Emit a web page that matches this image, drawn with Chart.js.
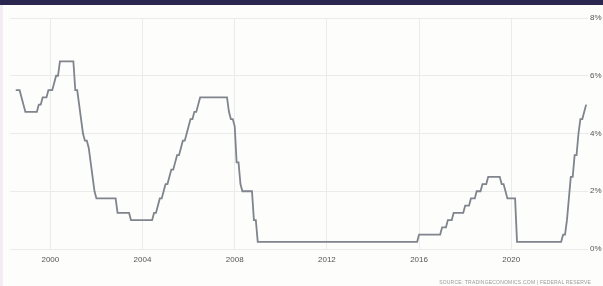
<!DOCTYPE html>
<html>
<head>
<meta charset="utf-8">
<script src="https://cdn.jsdelivr.net/npm/chart.js@4.4.1/dist/chart.umd.min.js"></script>
<style>
  html, body { margin: 0; padding: 0; background: #fdfdfb; }
  #wrap { position: relative; width: 603px; height: 286px; overflow: hidden; }
  #topbar { position: absolute; left: 0; top: 0; width: 603px; height: 5px; background: #2b2650; }
  #leftbar { position: absolute; left: 0; top: 5px; width: 3px; height: 281px; background: #f3ecf5; }
  #chart { position: absolute; left: 0; top: 0; }
  #source { position: absolute; right: 12px; bottom: 1px; font: 5px "Liberation Sans", Arial, sans-serif; color: #9a9a9a; letter-spacing: 0.2px; }
</style>
</head>
<body>
<div id="wrap">
  <canvas id="chart" width="603" height="286"></canvas>
  <div id="topbar"></div>
  <div id="leftbar"></div>
  <div id="source">SOURCE: TRADINGECONOMICS.COM | FEDERAL RESERVE</div>
</div>
<script>
// monthly fed funds target (upper bound), end of month, from Jun 1998
const startYear = 1998;
const startMonth = 6;
const rates = [
  5.5, 5.5, 5.5, 5.25, 5.0, 4.75, 4.75,                              // 1998 Jun-Dec
  4.75, 4.75, 4.75, 4.75, 4.75, 5.0, 5.0, 5.25, 5.25, 5.25, 5.5, 5.5, // 1999
  5.5, 5.75, 6.0, 6.0, 6.5, 6.5, 6.5, 6.5, 6.5, 6.5, 6.5, 6.5,       // 2000
  5.5, 5.5, 5.0, 4.5, 4.0, 3.75, 3.75, 3.5, 3.0, 2.5, 2.0, 1.75,     // 2001
  1.75, 1.75, 1.75, 1.75, 1.75, 1.75, 1.75, 1.75, 1.75, 1.75, 1.25, 1.25, // 2002
  1.25, 1.25, 1.25, 1.25, 1.25, 1.0, 1.0, 1.0, 1.0, 1.0, 1.0, 1.0,   // 2003
  1.0, 1.0, 1.0, 1.0, 1.0, 1.25, 1.25, 1.5, 1.75, 1.75, 2.0, 2.25,   // 2004
  2.25, 2.5, 2.75, 2.75, 3.0, 3.25, 3.25, 3.5, 3.75, 3.75, 4.0, 4.25, // 2005
  4.5, 4.5, 4.75, 4.75, 5.0, 5.25, 5.25, 5.25, 5.25, 5.25, 5.25, 5.25, // 2006
  5.25, 5.25, 5.25, 5.25, 5.25, 5.25, 5.25, 5.25, 4.75, 4.5, 4.5, 4.25, // 2007
  3.0, 3.0, 2.25, 2.0, 2.0, 2.0, 2.0, 2.0, 2.0, 1.0, 1.0, 0.25,      // 2008
  0.25, 0.25, 0.25, 0.25, 0.25, 0.25, 0.25, 0.25, 0.25, 0.25, 0.25, 0.25, // 2009
  0.25, 0.25, 0.25, 0.25, 0.25, 0.25, 0.25, 0.25, 0.25, 0.25, 0.25, 0.25, // 2010
  0.25, 0.25, 0.25, 0.25, 0.25, 0.25, 0.25, 0.25, 0.25, 0.25, 0.25, 0.25, // 2011
  0.25, 0.25, 0.25, 0.25, 0.25, 0.25, 0.25, 0.25, 0.25, 0.25, 0.25, 0.25, // 2012
  0.25, 0.25, 0.25, 0.25, 0.25, 0.25, 0.25, 0.25, 0.25, 0.25, 0.25, 0.25, // 2013
  0.25, 0.25, 0.25, 0.25, 0.25, 0.25, 0.25, 0.25, 0.25, 0.25, 0.25, 0.25, // 2014
  0.25, 0.25, 0.25, 0.25, 0.25, 0.25, 0.25, 0.25, 0.25, 0.25, 0.25, 0.5,  // 2015
  0.5, 0.5, 0.5, 0.5, 0.5, 0.5, 0.5, 0.5, 0.5, 0.5, 0.5, 0.75,       // 2016
  0.75, 0.75, 1.0, 1.0, 1.0, 1.25, 1.25, 1.25, 1.25, 1.25, 1.25, 1.5, // 2017
  1.5, 1.5, 1.75, 1.75, 1.75, 2.0, 2.0, 2.0, 2.25, 2.25, 2.25, 2.5,  // 2018
  2.5, 2.5, 2.5, 2.5, 2.5, 2.5, 2.25, 2.25, 2.0, 1.75, 1.75, 1.75,   // 2019
  1.75, 1.75, 0.25, 0.25, 0.25, 0.25, 0.25, 0.25, 0.25, 0.25, 0.25, 0.25, // 2020
  0.25, 0.25, 0.25, 0.25, 0.25, 0.25, 0.25, 0.25, 0.25, 0.25, 0.25, 0.25, // 2021
  0.25, 0.25, 0.5, 0.5, 1.0, 1.75, 2.5, 2.5, 3.25, 3.25, 4.0, 4.5,   // 2022
  4.5, 4.75, 5.0                                                      // 2023 Jan-Mar
];
const yearTicks = [2000, 2004, 2008, 2012, 2016, 2020];
const rateTicks = [0, 2, 4, 6, 8];

// each value sits at the end of its month
const points = rates.map((v, i) => ({ x: startYear + (startMonth - 1 + i + 1) / 12, y: v }));

const tickFont = { family: '"Liberation Sans", Arial, sans-serif', size: 8 };

new Chart(document.getElementById('chart').getContext('2d'), {
  type: 'line',
  data: {
    datasets: [{
      data: points,
      borderColor: '#7f848d',
      borderWidth: 1.8,
      pointRadius: 0,
      tension: 0,
      fill: false
    }]
  },
  options: {
    responsive: false,
    animation: false,
    layout: { padding: { left: 10, right: 0, top: 18, bottom: 17 } },
    plugins: { legend: { display: false }, tooltip: { enabled: false } },
    scales: {
      x: {
        type: 'linear',
        min: 1998.25,
        max: 2023.33,
        afterFit: (s) => { s.height = 20; },
        afterBuildTicks: (s) => { s.ticks = yearTicks.map(v => ({ value: v })); },
        grid: { color: '#ebebeb', lineWidth: 1, drawTicks: false },
        border: { display: false },
        ticks: { font: tickFont, color: '#555', padding: 6, maxRotation: 0, callback: (v) => String(v) }
      },
      y: {
        position: 'right',
        min: 0,
        max: 8,
        afterFit: (s) => { s.width = 15; },
        afterBuildTicks: (s) => { s.ticks = rateTicks.map(v => ({ value: v })); },
        grid: { color: '#ebebeb', lineWidth: 1, drawTicks: false },
        border: { display: false },
        ticks: { font: tickFont, color: '#555', padding: 2, callback: (v) => v + '%' }
      }
    }
  }
});
</script>
</body>
</html>
